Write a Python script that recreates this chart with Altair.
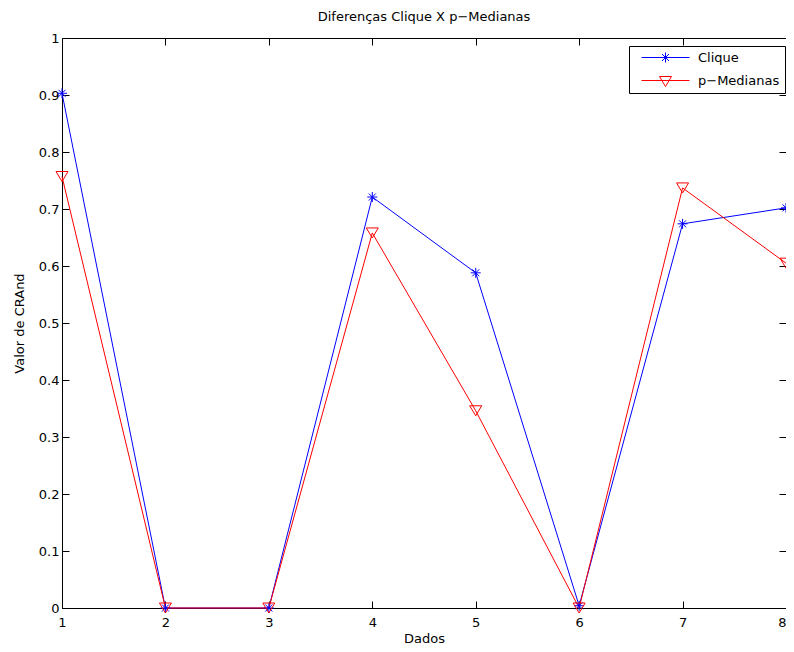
import altair as alt
import pandas as pd

# ---- data ----
dados = [1, 2, 3, 4, 5, 6, 7, 8]
clique = [0.903, 0.0, 0.0, 0.721, 0.588, 0.004, 0.674, 0.702]
p_medianas = [0.757, 0.0, 0.0, 0.658, 0.346, 0.0, 0.737, 0.605]
series = ["Clique", "p−Medianas"]
marker_keys = ["Clique ", "p−Medianas "]  # separate domain so the marker legend is not merged
x_ticks = [1, 2, 3, 4, 5, 6, 7, 8]
y_ticks = [0, 0.1, 0.2, 0.3, 0.4, 0.5, 0.6, 0.7, 0.8, 0.9, 1.0]

rows = []
for d, c in zip(dados, clique):
    rows.append({"Dados": d, "valor": c, "serie": series[0], "serie2": marker_keys[0]})
for d, p in zip(dados, p_medianas):
    rows.append({"Dados": d, "valor": p, "serie": series[1], "serie2": marker_keys[1]})
df = pd.DataFrame(rows)

FONT = "DejaVu Sans"
ASTERISK = "M-1,0L1,0M0,-1L0,1M-0.7,-0.7L0.7,0.7M-0.7,0.7L0.7,-0.7"
TRI_DOWN = "M-1.2,-1L1.2,-1L0,1Z"
LEGEND_LINE = "M0.2,0L9.8,0"
TICK = 7

xs = alt.Scale(domain=[1, 8], nice=False, zero=False)
ys = alt.Scale(domain=[0, 1], nice=False)

base = alt.Chart(df)

lines = base.mark_line(strokeWidth=1).encode(
    x=alt.X("Dados:Q", scale=xs, title="Dados",
            axis=alt.Axis(values=x_ticks, orient="bottom", offset=-TICK, tickSize=TICK,
                          domain=False, grid=False, labelPadding=8, labelFlush=False,
                          labelAlign={"condition": {"test": f"datum.value == {x_ticks[-1]}",
                                                    "value": "right"},
                                      "value": "center"},
                          format="d", titlePadding=3)),
    y=alt.Y("valor:Q", scale=ys, title="Valor de CRAnd",
            axis=alt.Axis(values=y_ticks, orient="left", offset=-TICK, tickSize=TICK,
                          domain=False, grid=False, labelPadding=3, labelFlush=False,
                          format=".1~f", titlePadding=12)),
    color=alt.Color("serie:N",
                    scale=alt.Scale(domain=series, range=["#0000ff", "#ff0000"]),
                    legend=alt.Legend(title=None, orient="none", legendX=567, legendY=8,
                                      symbolType=LEGEND_LINE, symbolSize=100,
                                      symbolStrokeWidth=1, labelOffset=51,
                                      padding=5, rowPadding=9,
                                      strokeColor="black", labelFont=FONT,
                                      labelFontSize=13, labelColor="black")),
)

marker_legend = alt.Legend(title=None, orient="none", legendX=592, legendY=8,
                           symbolSize=100, symbolStrokeWidth=1,
                           symbolFillColor="transparent",
                           padding=5, rowPadding=9, labelOpacity=0,
                           labelExpr="' '",
                           labelFont=FONT, labelFontSize=13)

points = base.mark_point(filled=False, size=100, strokeWidth=1, opacity=1).encode(
    x=alt.X("Dados:Q", scale=xs, axis=None),
    y=alt.Y("valor:Q", scale=ys, axis=None),
    shape=alt.Shape("serie2:N",
                    scale=alt.Scale(domain=marker_keys, range=[ASTERISK, TRI_DOWN]),
                    legend=marker_legend),
    stroke=alt.Stroke("serie2:N",
                      scale=alt.Scale(domain=marker_keys, range=["#0000ff", "#ff0000"]),
                      legend=marker_legend),
)

frame = base.mark_line(opacity=0).encode(
    x=alt.X("Dados:Q", scale=xs, title=None,
            axis=alt.Axis(values=x_ticks, orient="top", offset=-TICK, tickSize=TICK,
                          domain=False, grid=False, labels=False)),
    y=alt.Y("valor:Q", scale=ys, title=None,
            axis=alt.Axis(values=y_ticks, orient="right", offset=-TICK, tickSize=TICK,
                          domain=False, grid=False, labels=False)),
)

chart = alt.layer(lines, points, frame).resolve_axis(
    x="independent", y="independent"
).properties(
    width=724, height=570,
    title=alt.TitleParams("Diferenças Clique X p−Medianas", font=FONT, fontSize=13,
                          fontWeight="normal", color="black", offset=8),
    autosize=alt.AutoSizeParams(type="none"),
    padding={"left": 54, "top": 30, "right": 0, "bottom": 36},
).configure_view(
    stroke="black", strokeWidth=1
).configure_axis(
    labelFont=FONT, labelFontSize=13, labelColor="black",
    titleFont=FONT, titleFontSize=13, titleFontWeight="normal", titleColor="black",
    tickColor="black", tickWidth=1,
)

chart.save("out.html", embed_options={"renderer": "svg", "actions": False})
